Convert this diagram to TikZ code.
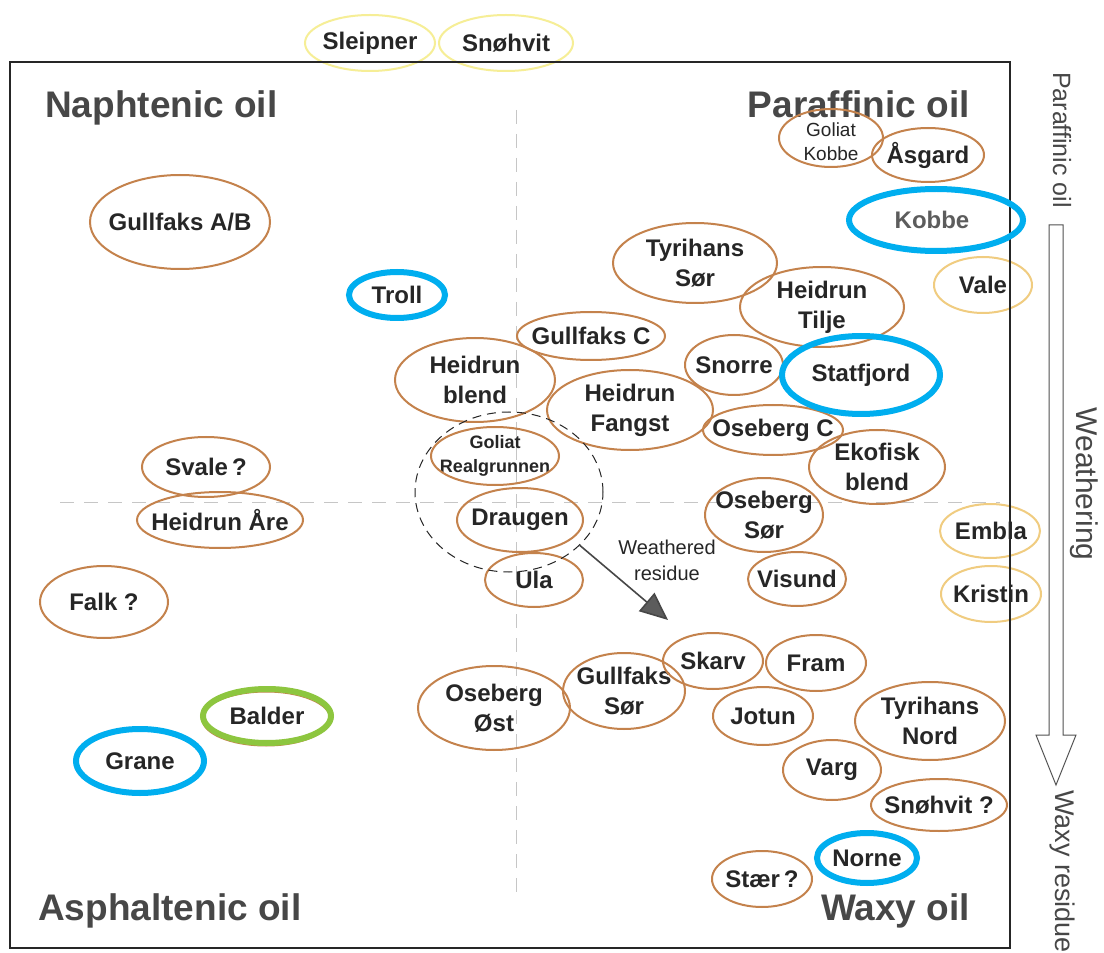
\documentclass[tikz,border=0pt]{standalone}
\usepackage{fontspec}
\setmainfont{Liberation Sans}
\usetikzlibrary{arrows.meta, shapes.geometric}
\definecolor{ringbrown}{RGB}{196,130,76}
\definecolor{ringblue}{RGB}{0,174,239}
\definecolor{ringgreen}{RGB}{141,198,63}
\definecolor{ringyellow}{RGB}{246,238,150}
\definecolor{ringamber}{RGB}{240,204,128}
\definecolor{inkgray}{RGB}{38,38,38}

\begin{document}
\begin{tikzpicture}[x=1pt, y=-1pt,
  field/.style={font=\fontsize{24}{30}\selectfont\bfseries, text=inkgray, align=center, inner sep=0pt},
  corner/.style={font=\fontsize{37}{40}\selectfont\bfseries, text=inkgray!85, inner sep=0pt},
  side/.style={text=inkgray!85, rotate=-90, inner sep=0pt},
  brownring/.style={draw=ringbrown, line width=2pt},
  paleRing/.style={draw=#1, line width=2pt},
  boldRing/.style={draw=#1, line width=6pt},
  quad/.style={draw=gray!45, line width=0.9pt, dash pattern=on 14pt off 10pt}]

  \fill[white] (0,0) rectangle (1104,952);

  % Quadrant lines
  \draw[quad] (516,110) -- (516,900);
  \draw[quad] (60,502) -- (1000,502);

  % Oil types
  \node[corner, anchor=base west] (naph) at (45,118) {Naphtenic oil};
  \node[corner, anchor=base east] (paraf) at (970,118) {Paraffinic oil};
  \node[corner, anchor=base west] (asph) at (38,920) {Asphaltenic oil};
  \node[corner, anchor=base east] (waxy) at (970,920) {Waxy oil};

  % Oil fields
  \node[field] (gullab) at (180,222) {Gullfaks A/B};
  \draw[brownring] (gullab.center) ellipse [x radius=90pt, y radius=47pt];
  \foreach \n/\x/\y/\rx/\ry/\t in {
      asgard/928/155/56/27/Åsgard, tyrsor/695/263/82/40/{Tyrihans\\Sør},
      heitil/822/307/82/40/{Heidrun\\Tilje}, gullc/591/336/74/24/{Gullfaks C},
      snorre/734/365/49/30/Snorre, heibl/475/380/80/42/{Heidrun\\blend},
      heifa/630/410/83/40/{Heidrun\\Fangst}, osec/773/430/70/25/{Oseberg C},
      ekofisk/877/467/68/37/{Ekofisk\\blend}, draugen/520/520/63/32/Draugen,
      ula/534/580/49/27/Ula, osesor/764/515/59/37/{Oseberg\\Sør},
      visund/797/579/49/27/Visund, svale/206/467/64/30/{Svale\,?},
      heiare/220/520/83/28/{Heidrun Åre}, falk/104/602/64/36/{Falk ?},
      oseost/494/708/76/42/{Oseberg\\Øst}, gullsor/624/691/61/38/{Gullfaks\\Sør},
      skarv/713/661/50/28/Skarv, fram/816/663/50/28/Fram,
      jotun/763/716/50/29/Jotun, tyrnord/930/721/75/39/{Tyrihans\\Nord},
      varg/832/770/49/30/Varg, snohq/939/805/68/26/{Snøhvit ?},
      staer/762/879/50/28/{Stær\,?}} {
    \node[field] (\n) at (\x,\y) {\t};
    \draw[brownring] (\n.center) ellipse [x radius=\rx pt, y radius=\ry pt];
  }
  \node[field, font=\fontsize{19}{24}\selectfont] (golk) at (831,142) {Goliat\\Kobbe};
  \draw[brownring] (831,138) ellipse [x radius=52pt, y radius=29pt];
  \node[field, font=\fontsize{18}{24}\selectfont\bfseries] (golr) at (495,456) {Goliat\\Realgrunnen};
  \draw[brownring] (golr.center) ellipse [x radius=64pt, y radius=29pt];

  % Fields drawn in pale rings
  \foreach \n/\x/\y/\rx/\ry/\c in {sleipner/370/43/65/28/ringyellow, snohvit/506/43/67/28/ringyellow,
      vale/983/285/49/28/ringamber, embla/990/531/50/27/ringamber, kristin/991/594/50/28/ringamber} {
    \draw[paleRing=\c] (\x,\y) ellipse [x radius=\rx pt, y radius=\ry pt];
  }
  \node[field] (sleipnerl) at (370,43) {Sleipner};
  \node[field] (snohvitl) at (506,43) {Snøhvit};
  \node[field] (valel) at (983,285) {Vale};
  \node[field] (emblal) at (991,531) {Embla};
  \node[field] (kristinl) at (991,594) {Kristin};

  % Frame
  \draw[inkgray, line width=1.6pt] (10,62) rectangle (1010,948);

  % Weathered residue
  \node[draw=inkgray, line width=1pt, dash pattern=on 9pt off 6pt, ellipse, minimum width=188pt, minimum height=160pt] (resid) at (509,492) {};
  \coordinate (wend) at (668,620);
  \draw[draw=inkgray!85, line width=1.6pt, -{Triangle[length=28pt, width=24pt, fill=inkgray!75]}] (resid.-37) -- (wend);
  \node[align=center, text=inkgray, font=\fontsize{20}{26}\selectfont] (wtext) at (667,560) {Weathered\\residue};

  % Highlighted fields
  \foreach \n/\x/\y/\rx/\ry/\t in {troll/397/295/48/23/Troll, statfjord/861/375/79/39/Statfjord,
      grane/140/761/64/32/Grane, norne/867/858/50/25/Norne} {
    \node[field] (\n) at (\x,\y) {\t};
    \draw[boldRing=ringblue] (\n.center) ellipse [x radius=\rx pt, y radius=\ry pt];
  }
  \node[field, text=inkgray!75] (kobbe) at (932,220) {Kobbe};
  \draw[boldRing=ringblue] (936,220) ellipse [x radius=87pt, y radius=31pt];
  \node[field] (balder) at (267,716) {Balder};
  \draw[brownring, line width=1pt] (266,719) ellipse [x radius=64pt, y radius=27pt];
  \draw[boldRing=ringgreen] (balder.center) ellipse [x radius=64pt, y radius=27pt];

  % Weathering scale
  \draw[inkgray!80, line width=1pt] (1049,225) -- (1049,735) -- (1036,735) -- (1056,785)
    -- (1076,735) -- (1063,735) -- (1063,225) -- cycle;
  \node[side, anchor=west, font=\fontsize{25}{30}\selectfont] (parafside) at (1062,72) {Paraffinic oil};
  \node[side, font=\fontsize{30}{34}\selectfont] (weath) at (1084,484) {Weathering};
  \node[side, anchor=west, font=\fontsize{27}{30}\selectfont] (waxres) at (1062,790) {Waxy residue};
\end{tikzpicture}
\end{document}
